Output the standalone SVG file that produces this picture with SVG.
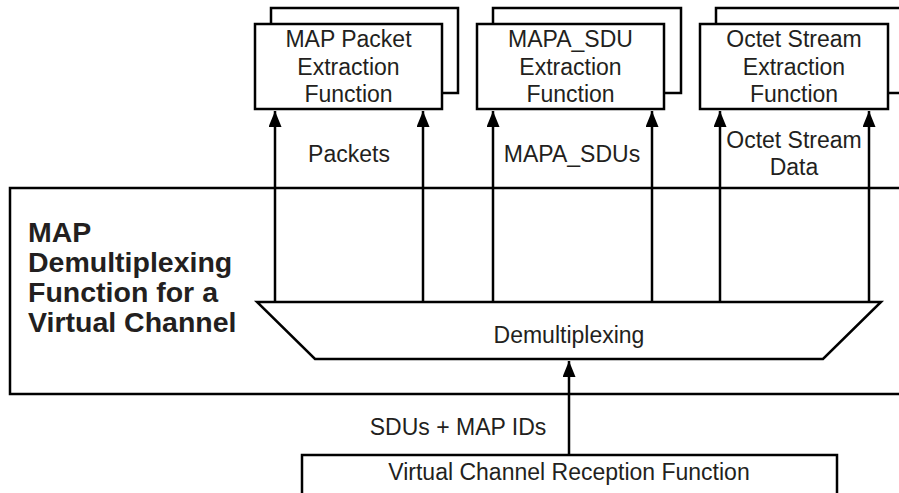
<svg xmlns="http://www.w3.org/2000/svg" width="899" height="493" viewBox="0 0 899 493">
<style>
.box{fill:#fff;stroke:#000;stroke-width:2.5}
.back{fill:none;stroke:#000;stroke-width:2.5}
.ln{fill:none;stroke:#000;stroke-width:2.5}
text{font-family:"Liberation Sans",Arial,sans-serif;font-size:23px;fill:#231f20;text-anchor:middle}
.title{font-weight:bold;font-size:28.5px;text-anchor:start}
</style>
<defs>
<marker id="ah" viewBox="0 0 16 13" refX="16" refY="6.5" markerWidth="16" markerHeight="13" markerUnits="userSpaceOnUse" orient="auto">
<path d="M0,0 L16,6.5 L0,13 Z" fill="#000"/>
</marker>
</defs>
<rect width="899" height="493" fill="#fff"/>
<g id="main">
<rect class="box" x="10" y="188" width="900" height="206"/>
<text class="title" x="28" y="242">MAP</text>
<text class="title" x="28" y="272">Demultiplexing</text>
<text class="title" x="28" y="302">Function for a</text>
<text class="title" x="28" y="332">Virtual Channel</text>
</g>
<g id="packet-extraction">
<path class="back" d="M271,23 V8 H458 V93 H442"/>
<rect class="box" x="255" y="24" width="187" height="85"/>
<text x="348.5" y="47">MAP Packet</text>
<text x="348.5" y="75">Extraction</text>
<text x="348.5" y="102">Function</text>
</g>
<g id="mapa-extraction">
<path class="back" d="M493,23 V8 H681 V93 H664"/>
<rect class="box" x="477" y="24" width="187" height="85"/>
<text x="570.5" y="47">MAPA_SDU</text>
<text x="570.5" y="75">Extraction</text>
<text x="570.5" y="102">Function</text>
</g>
<g id="octet-extraction">
<path class="back" d="M716,23 V8 H905 M905,93 H888"/>
<rect class="box" x="700" y="24" width="188" height="85"/>
<text x="794" y="47">Octet Stream</text>
<text x="794" y="75">Extraction</text>
<text x="794" y="102">Function</text>
</g>
<g id="demux">
<path class="box" d="M257,302 H881 L823,359 H315 Z"/>
<text x="569" y="343">Demultiplexing</text>
</g>
<g id="vc-reception">
<rect class="box" x="302" y="455" width="535" height="40"/>
<text x="569" y="480">Virtual Channel Reception Function</text>
</g>
<g id="connectors">
<line class="ln" x1="275" y1="302" x2="275" y2="111" marker-end="url(#ah)"/>
<line class="ln" x1="423" y1="302" x2="423" y2="111" marker-end="url(#ah)"/>
<line class="ln" x1="493" y1="302" x2="493" y2="111" marker-end="url(#ah)"/>
<line class="ln" x1="652" y1="302" x2="652" y2="111" marker-end="url(#ah)"/>
<line class="ln" x1="720" y1="302" x2="720" y2="111" marker-end="url(#ah)"/>
<line class="ln" x1="869" y1="302" x2="869" y2="111" marker-end="url(#ah)"/>
<line class="ln" x1="569" y1="455" x2="569" y2="361" marker-end="url(#ah)"/>
<text x="349" y="162">Packets</text>
<text x="572" y="162">MAPA_SDUs</text>
<text x="794" y="148">Octet Stream</text>
<text x="794" y="175">Data</text>
<text x="458" y="435">SDUs + MAP IDs</text>
</g>
</svg>
